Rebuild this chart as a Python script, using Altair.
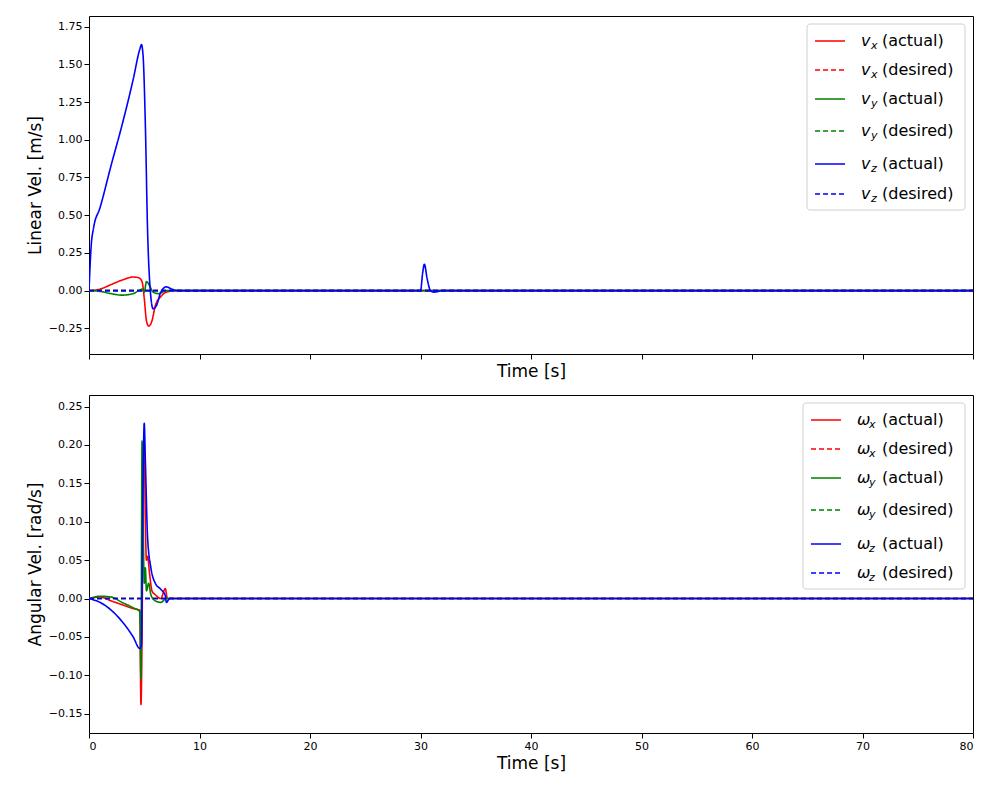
import pandas as pd
import altair as alt

# top panel: linear velocity (time [s], value [m/s])
vx_t = [0, 1, 2, 3, 4, 4.5, 4.8, 5.0, 5.2, 5.4, 5.7, 6, 6.5, 7, 8, 80]
vx_v = [0, 0.01, 0.04, 0.07, 0.09, 0.085, 0.06, -0.05, -0.2, -0.235, -0.2, -0.1, -0.04, -0.01, 0, 0]
vy_t = [0, 1, 2, 3, 4, 4.5, 4.8, 5.0, 5.2, 5.5, 5.8, 6.3, 7, 80]
vy_v = [0, -0.005, -0.02, -0.03, -0.02, 0, 0.01, -0.01, 0.06, 0.03, -0.01, -0.02, 0, 0]
vz_t = [0, 0.2, 0.4, 1, 2, 3, 4, 4.6, 4.75, 4.9, 5.1, 5.3, 5.5, 5.8, 6.1, 6.5, 7, 7.5, 8,
        30, 30.2, 30.35, 30.6, 30.9, 31.2, 32, 80]
vz_v = [0, 0.3, 0.41, 0.55, 0.83, 1.1, 1.4, 1.6, 1.63, 1.55, 1.1, 0.4, 0.05, -0.12, -0.1, -0.01, 0.025, 0.01, 0,
        0, 0.12, 0.175, 0.08, 0, -0.01, 0, 0]

# bottom panel: angular velocity (time [s], value [rad/s])
wx_t = [0, 1, 2, 3, 4, 4.6, 4.7, 4.8, 4.9, 5.0, 5.1, 5.2, 5.3, 5.5, 5.7, 6, 6.5, 6.9, 7.1, 80]
wx_v = [0, 0.002, -0.003, -0.008, -0.013, -0.015, -0.138, -0.05, 0.15, 0.2, 0.1, 0.05, 0.055, 0.03, 0.01, 0.005, 0, 0.013, 0, 0]
wy_t = [0, 1, 2, 3, 4, 4.6, 4.7, 4.8, 4.9, 5.0, 5.1, 5.2, 5.4, 5.6, 6, 6.5, 7, 80]
wy_v = [0, 0.003, 0.002, -0.005, -0.012, -0.017, -0.105, 0.205, 0.1, 0.02, 0.04, 0.01, 0.02, 0.005, -0.003, -0.005, 0, 0]
wz_t = [0, 1, 2, 3, 4, 4.6, 4.75, 4.85, 5.0, 5.1, 5.3, 5.6, 6, 6.5, 6.9, 7.0, 7.3, 80]
wz_v = [0, -0.005, -0.015, -0.03, -0.05, -0.065, -0.06, 0.1, 0.228, 0.18, 0.08, 0.04, 0.02, 0.012, 0.004, -0.005, 0, 0]

desired_t = [0, 80]
desired_v = [0, 0]

COLORS = ["red", "green", "blue"]
FONT = "DejaVu Sans"
W, H = 884, 338
DASH = alt.Scale(domain=["solid", "dashed"], range=[[1, 0], [5, 3]])


def frame(series):
    rows = []
    for i, (t, v) in enumerate(series):
        for a, b in zip(t, v):
            rows.append({"s": f"{i}a", "c": COLORS[i], "dash": "solid", "t": a, "v": b})
        for a, b in zip(desired_t, desired_v):
            rows.append({"s": f"{i}d", "c": COLORS[i], "dash": "dashed", "t": a, "v": b})
    return pd.DataFrame(rows)


def legend(sym, x0, x1, rows_y, subs=("x", "y", "z")):
    recs = []
    k = 0
    for i, sub in enumerate(subs):
        for kind, dash in (("(actual)", "solid"), ("(desired)", "dashed")):
            recs.append({"c": COLORS[i], "dash": dash, "y": rows_y[k], "sub": sub, "kind": kind})
            k += 1
    df = pd.DataFrame(recs)
    lx = x0 + 8
    box = alt.Chart(pd.DataFrame({"a": [0]})).mark_rect(
        fill="white", stroke="#cccccc", cornerRadius=3, opacity=0.9
    ).encode(x=alt.value(x0), x2=alt.value(x1), y=alt.value(rows_y[0] - 17), y2=alt.value(rows_y[-1] + 16))
    base = alt.Chart(df)
    lines = base.mark_rule(strokeWidth=1.5).encode(
        x=alt.value(lx), x2=alt.value(lx + 30), y=alt.Y("y:Q", scale=None),
        color=alt.Color("c:N", scale=None),
        strokeDash=alt.StrokeDash("dash:N", scale=DASH, legend=None),
    )
    t1 = base.mark_text(align="left", baseline="middle", font=FONT, fontSize=16, fontStyle="italic").encode(
        x=alt.value(lx + 46), y=alt.Y("y:Q", scale=None), text=alt.value(sym))
    t2 = base.mark_text(align="left", baseline="middle", font=FONT, fontSize=11, fontStyle="italic", dy=5).encode(
        x=alt.value(lx + 46 + (10 if sym == "v" else 12)), y=alt.Y("y:Q", scale=None), text="sub:N")
    t3 = base.mark_text(align="left", baseline="middle", font=FONT, fontSize=16).encode(
        x=alt.value(lx + 46 + (21 if sym == "v" else 25)), y=alt.Y("y:Q", scale=None), text="kind:N")
    return box + lines + t1 + t2 + t3


def panel(df, ytitle, ydom, ticks, show_x_labels, leg):
    lines = alt.Chart(df).mark_line(strokeWidth=1.6, clip=True, interpolate="monotone").encode(
        x=alt.X("t:Q", scale=alt.Scale(domain=[0, 80], nice=False),
                axis=alt.Axis(title="Time [s]", titleFontSize=17, titleFontWeight="normal", titleFont=FONT,
                              labels=show_x_labels, labelFontSize=11, labelFont=FONT, values=list(range(0, 81, 10)),
                              grid=False, domain=False, tickColor="black", labelColor="black", titleColor="black")),
        y=alt.Y("v:Q", scale=alt.Scale(domain=ydom, nice=False, zero=False),
                axis=alt.Axis(title=ytitle, titleFontSize=17, titleFontWeight="normal", titleFont=FONT,
                              labelFontSize=11, labelFont=FONT, values=ticks, format=".2f", grid=False,
                              domain=False, tickColor="black", labelColor="black", titleColor="black")),
        color=alt.Color("c:N", scale=None),
        strokeDash=alt.StrokeDash("dash:N", scale=DASH, legend=None),
        detail="s:N",
    )
    return (lines + leg).properties(width=W, height=H)


top_ticks = [-0.25, 0, 0.25, 0.5, 0.75, 1.0, 1.25, 1.5, 1.75]
bottom_ticks = [-0.15, -0.1, -0.05, 0, 0.05, 0.1, 0.15, 0.2, 0.25]

top = panel(frame([(vx_t, vx_v), (vy_t, vy_v), (vz_t, vz_v)]), "Linear Vel. [m/s]",
            [-0.42, 1.82], top_ticks, False, legend("v", 718, 876, [25, 54, 83, 115, 148, 178]))
bottom = panel(frame([(wx_t, wx_v), (wy_t, wy_v), (wz_t, wz_v)]), "Angular Vel. [rad/s]",
               [-0.175, 0.265], bottom_ticks, True, legend("ω", 714, 876, [25, 54, 83, 115, 149, 178]))

chart = alt.vconcat(top, bottom, spacing=14).configure_view(stroke="black", strokeWidth=1).properties(
    padding={"left": 17, "top": 7, "right": 5, "bottom": 5}
)
chart.save("out.html", embed_options={"renderer": "svg", "actions": False})
